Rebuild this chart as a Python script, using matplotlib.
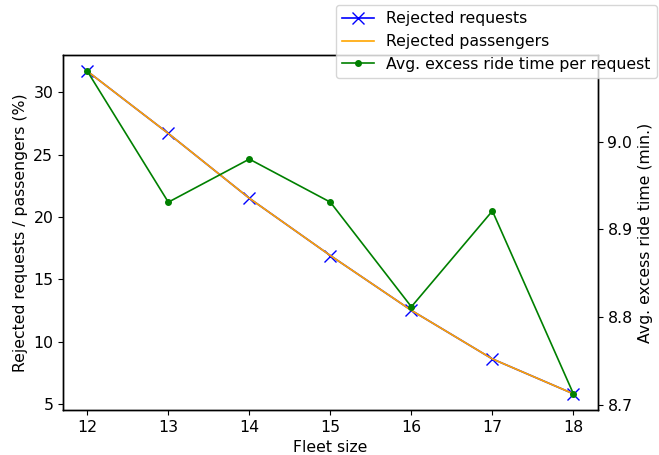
import matplotlib
matplotlib.use("Agg")
import matplotlib.pyplot as plt

fleet_size = [12, 13, 14, 15, 16, 17, 18]
rejected_requests = [31.7, 26.7, 21.5, 16.9, 12.5, 8.6, 5.8]
rejected_passengers = [31.7, 26.7, 21.5, 16.9, 12.5, 8.6, 5.8]
excess_ride_time = [9.080, 8.931, 8.980, 8.931, 8.812, 8.921, 8.713]

plt.rcParams['font.size'] = 11.3
plt.rcParams['axes.linewidth'] = 1.0

fig, ax1 = plt.subplots(figsize=(6.59, 4.55), dpi=100)
fig.subplots_adjust(left=0.0956, right=0.907, top=0.879, bottom=0.099)

l1, = ax1.plot(fleet_size, rejected_requests, color='b', marker='x', markersize=8, linewidth=1.2,
               label='Rejected requests')
l2, = ax1.plot(fleet_size, rejected_passengers, color='orange', linewidth=1.2, label='Rejected passengers')
ax1.set_xlabel('Fleet size')
ax1.set_ylabel('Rejected requests / passengers (%)')
ax1.set_yticks([5, 10, 15, 20, 25, 30])

ax2 = ax1.twinx()
l3, = ax2.plot(fleet_size, excess_ride_time, color='g', marker='.', markersize=8, linewidth=1.2,
               label='Avg. excess ride time per request')
ax2.set_ylabel('Avg. excess ride time (min.)')
ax2.set_yticks([8.7, 8.8, 8.9, 9.0])

fig.legend(handles=[l1, l2, l3], loc='upper left', bbox_to_anchor=(336 / 659, 1 - 5 / 455),
           borderaxespad=0, handlelength=2)

plt.savefig('out.png')
